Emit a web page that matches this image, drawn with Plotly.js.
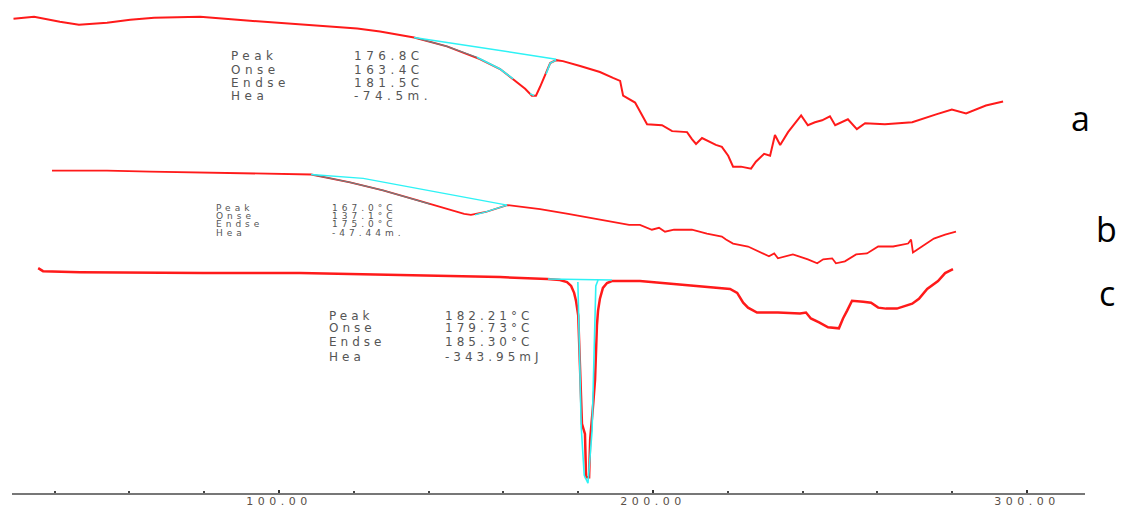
<!DOCTYPE html>
<html><head><meta charset="utf-8">
<script src="https://cdn.plot.ly/plotly-3.0.1.min.js"></script>
<style>html,body{margin:0;padding:0;background:#fff;} #chart{width:1123px;height:511px;} .xtick text{letter-spacing:4.5px;}</style>
</head><body><div id="chart"></div>
<script>
// ---- DSC curves: temperature (°C) and heat flow (arbitrary units, offset per sample) ----
const aTemp = [29.0,34.5,41.4,46.5,54.0,60.2,66.6,78.9,92.2,106.7,120.9,127.0,136.1,144.9,153.7,159.1,162.6,165.8,167.6,168.7,169.8,171.1,172.5,174.1,175.9,180.5,185.8,189.3,191.2,192.0,195.2,198.4,202.4,205.1,209.1,210.4,211.5,213.1,216.8,218.4,220.1,221.4,223.5,226.2,227.5,229.7,231.3,232.6,234.0,236.1,239.6,241.4,243.3,245.2,247.3,248.7,252.1,254.5,256.7,262.0,269.3,275.7,279.9,283.7,289.0,293.6];
const aHeat = [-1.9,-1.7,-2.2,-2.5,-2.3,-2.0,-1.8,-1.7,-2.1,-2.5,-2.9,-3.2,-3.8,-4.7,-6.0,-7.0,-8.0,-9.0,-9.7,-9.7,-8.8,-7.7,-6.4,-6.1,-6.2,-6.7,-7.3,-7.9,-8.2,-9.7,-10.4,-12.6,-12.7,-13.3,-13.4,-14.1,-14.6,-14.0,-14.7,-14.9,-15.8,-16.9,-16.9,-17.1,-16.4,-15.6,-15.8,-13.7,-14.7,-13.4,-11.7,-12.7,-12.4,-12.2,-11.8,-12.7,-12.1,-13.1,-12.5,-12.6,-12.4,-11.6,-11.1,-11.5,-10.7,-10.3];

const bTemp = [39.3,54.0,65.5,77.8,92.2,108.6,119.0,127.8,136.9,145.7,149.5,151.3,155.3,161.0,169.8,177.3,184.8,193.6,196.5,199.7,201.6,203.2,205.6,210.4,214.4,218.4,219.5,221.4,225.4,229.4,231.0,232.4,233.4,237.4,241.4,243.9,245.5,247.9,248.9,251.3,254.3,257.2,260.2,264.2,268.2,269.0,269.5,270.3,273.3,275.1,278.1,281.0];
const bHeat = [-17.3,-17.3,-17.4,-17.5,-17.6,-17.7,-18.5,-19.3,-20.3,-21.3,-21.7,-21.8,-21.5,-20.8,-21.2,-21.7,-22.2,-22.8,-22.8,-23.3,-23.1,-23.5,-23.3,-23.3,-23.7,-24.0,-24.3,-24.7,-25.0,-25.7,-26.0,-25.7,-26.2,-25.8,-26.3,-26.7,-26.3,-26.2,-26.7,-26.5,-25.8,-25.7,-25.0,-25.0,-24.7,-24.3,-25.6,-25.4,-24.7,-24.2,-23.8,-23.5];

const cTemp = [35.6,36.9,46.8,71.7,79.7,105.6,132.4,159.1,171.7,175.1,177.0,178.1,178.9,179.4,180.0,180.5,181.0,181.8,182.1,182.9,183.2,184.0,184.5,185.0,185.3,185.8,186.6,187.7,189.0,196.5,209.6,220.6,222.5,224.1,225.4,227.8,233.4,239.3,240.9,242.2,244.4,246.8,249.7,250.8,251.9,253.2,256.2,258.3,260.2,262.3,265.2,269.3,271.1,273.3,276.2,278.1,280.2];
const cHeat = [-27.2,-27.5,-27.6,-27.7,-27.7,-27.7,-27.9,-28.1,-28.3,-28.4,-28.6,-29.0,-29.7,-30.5,-32.0,-37.0,-43.0,-44.0,-48.4,-48.4,-44.5,-41.0,-38.5,-33.0,-31.5,-30.3,-29.2,-28.7,-28.5,-28.5,-28.9,-29.3,-29.7,-30.7,-31.2,-31.7,-31.7,-31.8,-31.7,-32.3,-32.7,-33.2,-33.3,-32.3,-31.5,-30.5,-30.6,-30.7,-31.2,-31.3,-31.3,-30.8,-30.3,-29.3,-28.5,-27.7,-27.3];

// ---- peak-analysis overlays (baselines and integrated segments) ----
const aOnsetTemp = [136.1,144.9,152.9];          const aOnsetHeat = [-3.8,-4.7,-5.8];
const aBaseTemp = [136.1,174.1];                 const aBaseHeat = [-3.8,-6.0];
const aPeakTemp = [152.9,159.1,162.6,null,167.1,168.2,null,171.4,172.5,174.1];
const aPeakHeat = [-5.8,-7.0,-8.0,null,-9.5,-9.7,null,-7.5,-6.4,-6.1];
const bOnsetTemp = [108.6,119.0,127.8,136.9,140.4]; const bOnsetHeat = [-17.7,-18.5,-19.3,-20.3,-20.7];
const bBaseTemp = [108.6,122.5,161.0];           const bBaseHeat = [-17.7,-18.1,-20.8];
const bPeakTemp = [152.4,155.3,161.0];           const bPeakHeat = [-21.8,-21.5,-20.8];
const cBaseTemp = [171.9,189.0];                 const cBaseHeat = [-28.3,-28.4];
const cPeakTemp = [179.9,180.8,181.6,182.6,183.7,184.7,185.3];
const cPeakHeat = [-28.6,-43.3,-48.2,-49.0,-43.7,-29.0,-28.4];

// ---- texts ----
const sampleNames = ["a","b","c"];
const fieldNames = ["Peak","Onse","Endse","Hea"];
const aValues = ["176.8C","163.4C","181.5C","-74.5m."];
const bValues = ["167.0°C","137.1°C","175.0°C","-47.44m."];
const cValues = ["182.21°C","179.73°C","185.30°C","-343.95mJ"];
const tickValues = [100,200,300];

const RED = '#ff1a1a', CYAN = '#2ef2f5', GRAY = '#6f7f80';
function tr(x,y,color,w){return {x:x,y:y,mode:'lines',type:'scatter',hoverinfo:'skip',line:{color:color,width:w},showlegend:false,connectgaps:false};}
const data = [
  tr(aTemp,aHeat,RED,2), tr(bTemp,bHeat,RED,1.8), tr(cTemp,cHeat,RED,2.5),
  tr(aOnsetTemp,aOnsetHeat,GRAY,1.2), tr(aBaseTemp,aBaseHeat,CYAN,1.5), tr(aPeakTemp,aPeakHeat,CYAN,1.6),
  tr(bOnsetTemp,bOnsetHeat,GRAY,1.2), tr(bBaseTemp,bBaseHeat,CYAN,1.3), tr(bPeakTemp,bPeakHeat,CYAN,1.3),
  tr(cBaseTemp,cBaseHeat,CYAN,1.5), tr(cPeakTemp,cPeakHeat,CYAN,1.6)
];

// annotation layout
const anns = [];
const letterPos = [[0.996,0.76],[1.0205,0.535],[1.0205,0.405]];
sampleNames.forEach((s,i)=>anns.push({text:s,xref:'paper',yref:'paper',x:letterPos[i][0],y:letterPos[i][1],xanchor:'center',yanchor:'middle',showarrow:false,font:{family:'Open Sans',size:34,color:'#000'}}));
const blocks = [
  {vals:aValues, lx:86.6, vx:119.5, ys:[-5.7,-7.1,-8.4,-9.7], size:12},
  {vals:bValues, lx:82.6, vx:113.6, ys:[-21.1,-21.9,-22.7,-23.6], size:9},
  {vals:cValues, lx:112.8, vx:143.9, ys:[-32.0,-33.3,-34.7,-36.2], size:12}
];
blocks.forEach(b=>{
  for(let i=0;i<4;i++){
    anns.push({text:fieldNames[i],x:b.lx,y:b.ys[i],xref:'x',yref:'y',xanchor:'left',yanchor:'middle',align:'left',showarrow:false,font:{family:'DejaVu Sans',size:b.size,color:'#555'}});
  }
  for(let i=0;i<4;i++){
    anns.push({text:b.vals[i],x:b.vx,y:b.ys[i],xref:'x',yref:'y',xanchor:'left',yanchor:'middle',align:'left',showarrow:false,font:{family:'DejaVu Sans',size:b.size,color:'#555'}});
  }
});

const layout = {
  width:1123, height:511,
  margin:{l:12,r:38,t:0,b:18},
  paper_bgcolor:'#fff', plot_bgcolor:'#fff',
  showlegend:false,
  xaxis:{range:[28.6,315.5], showgrid:false, zeroline:false, showline:true, linecolor:'#777', linewidth:2,
         tickmode:'array', tickvals:tickValues, tickformat:'.2f', ticks:'inside', ticklen:3, tickwidth:2, tickcolor:'#333',
         ticklabelstandoff:-3,
         tickfont:{family:'DejaVu Sans',size:11,color:'#5a5048'},
         minor:{dtick:20, tick0:0, ticks:'inside', ticklen:2, tickwidth:2, tickcolor:'#444'},
         fixedrange:true},
  yaxis:{range:[-50,0], visible:false, fixedrange:true},
  annotations:anns
};

Plotly.newPlot('chart', data, layout, {displayModeBar:false, staticPlot:true}).then(()=>{
  const spacing = i => (i<3?0:(i<11?4.5:4));
  document.querySelectorAll('.annotation').forEach(g=>{
    const idx = +g.getAttribute('data-index');
    g.querySelectorAll('text').forEach(t=>{t.style.letterSpacing = spacing(idx)+'px';});
  });
});
</script></body></html>
